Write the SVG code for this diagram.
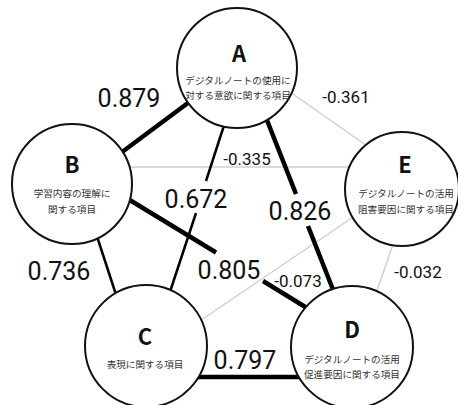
<svg xmlns="http://www.w3.org/2000/svg" width="458" height="405" viewBox="0 0 458 405">
<style>
.node{fill:#fff;stroke:#111;stroke-width:2}
.ttl{font-family:"Noto Sans CJK JP","Noto Sans",sans-serif;font-weight:bold;font-size:22px;fill:#111;text-anchor:middle}
.sub{font-family:"Noto Sans CJK JP","Noto Sans CJK SC",sans-serif;font-size:9.6px;fill:#333;text-anchor:middle}
.big{font-family:Roboto,"Liberation Sans",sans-serif;font-size:25px;fill:#111;text-anchor:middle}
.sm{font-family:Roboto,"Liberation Sans",sans-serif;font-size:17px;fill:#111;text-anchor:middle}
.thick{stroke:#000;stroke-width:4.5;fill:none}
.mid{stroke:#000;stroke-width:2.5;fill:none}
.thin{stroke:#cfcfcf;stroke-width:1.5;fill:none}
</style>
<rect width="458" height="405" fill="#fff"/>
<g id="connectors">
<line class="thin" x1="280" y1="85" x2="370" y2="148"/>
<line class="thin" x1="100" y1="167" x2="380" y2="167"/>
<line class="thin" x1="185" y1="331" x2="365" y2="209"/>
<line class="thin" x1="398" y1="230" x2="372" y2="305"/>
<line class="thick" x1="110" y1="161" x2="200" y2="94"/>
<line class="mid" x1="229" y1="110" x2="206" y2="181"/>
<line class="mid" x1="196" y1="213" x2="164" y2="310"/>
<line class="thick" x1="263" y1="110" x2="296" y2="194"/>
<line class="thick" x1="308" y1="226" x2="341" y2="310"/>
<line class="thick" x1="110" y1="188" x2="216" y2="252.5"/>
<line class="thick" x1="263" y1="281" x2="320" y2="316"/>
<line class="mid" x1="90" y1="215" x2="122" y2="313"/>
<line class="thick" x1="180" y1="377" x2="320" y2="377"/>
</g>
<g id="labels">
<text class="big" x="129" y="107">0.879</text>
<text class="sm" x="346" y="103">-0.361</text>
<text class="sm" x="247" y="165">-0.335</text>
<text class="big" x="196" y="208">0.672</text>
<text class="big" x="300" y="220">0.826</text>
<text class="big" x="59" y="280">0.736</text>
<text class="big" x="229" y="279">0.805</text>
<text class="sm" x="298" y="287">-0.073</text>
<text class="sm" x="418" y="278">-0.032</text>
<text class="big" x="245" y="369">0.797</text>
</g>
<g id="nodeA">
<circle class="node" cx="237" cy="68" r="60"/>
<text class="ttl" x="239" y="62">A</text>
<text class="sub" x="238" y="84">デジタルノートの使用に</text>
<text class="sub" x="238" y="99">対する意欲に関する項目</text>
</g>
<g id="nodeB">
<circle class="node" cx="72" cy="184" r="60"/>
<text class="ttl" x="72" y="173">B</text>
<text class="sub" x="72" y="197">学習内容の理解に</text>
<text class="sub" x="72" y="213">関する項目</text>
</g>
<g id="nodeE">
<circle class="node" cx="402" cy="189" r="57"/>
<text class="ttl" x="405" y="173">E</text>
<text class="sub" x="406" y="197">デジタルノートの活用</text>
<text class="sub" x="406" y="213">阻害要因に関する項目</text>
</g>
<g id="nodeC">
<circle class="node" cx="146" cy="346" r="61"/>
<text class="ttl" x="145" y="345">C</text>
<text class="sub" x="145" y="368">表現に関する項目</text>
</g>
<g id="nodeD">
<circle class="node" cx="352" cy="347" r="61"/>
<text class="ttl" x="352" y="338">D</text>
<text class="sub" x="352" y="363">デジタルノートの活用</text>
<text class="sub" x="352" y="378">促進要因に関する項目</text>
</g>
</svg>
